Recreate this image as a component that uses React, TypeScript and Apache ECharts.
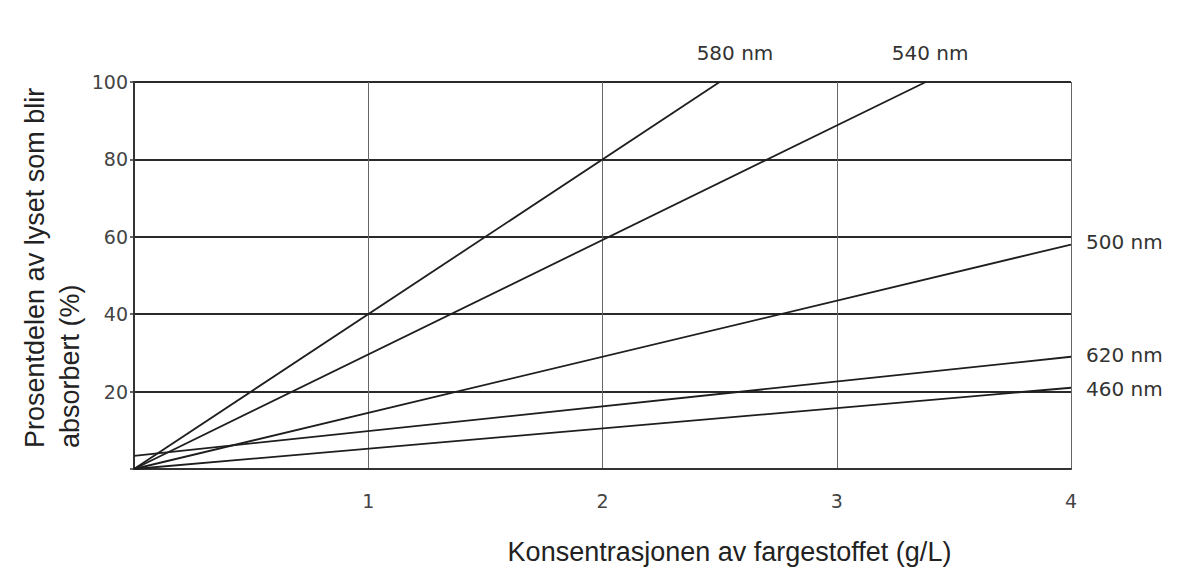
import React, { useEffect, useRef } from "react";
import * as echarts from "echarts";

// concentration (g/L) vs. percentage of light absorbed (%)
const line580 = [[0, 0], [2.5, 100]];
const line540 = [[0, 0], [3.38, 100]];
const line500 = [[0, 0], [4, 58]];
const line620 = [[0, 3.4], [4, 29]];
const line460 = [[0, 0], [4, 21]];

const xTicks = [0, 1, 2, 3, 4];
const yTicks = [0, 20, 40, 60, 80, 100];

const yTitle1 = "Prosentdelen av lyset som blir";
const yTitle2 = "absorbert (%)";
const xTitle = "Konsentrasjonen av fargestoffet (g/L)";

const FONT = "'Liberation Sans', Arial, sans-serif";
const TICK_FONT = "'DejaVu Sans', sans-serif";

export default function App() {
  const chartRef = useRef<HTMLDivElement>(null);

  useEffect(() => {
    if (!chartRef.current) return;
    const chart = echarts.init(chartRef.current, null, { renderer: "svg" });

    const mkSeries = (name: string, data: number[][], offset: number[]) => ({
      name,
      type: "line",
      data,
      showSymbol: false,
      symbol: "none",
      lineStyle: { color: "#1e1e1e", width: 1.8 },
      endLabel: {
        show: true,
        formatter: name,
        distance: 15,
        offset,
        fontFamily: TICK_FONT,
        fontSize: 20,
        color: "#333",
      },
      z: 3,
    });

    chart.setOption({
      animation: false,
      backgroundColor: "#fff",
      grid: { left: 134, right: 117, top: 82, bottom: 116 },
      xAxis: {
        type: "value",
        min: xTicks[0],
        max: xTicks[xTicks.length - 1],
        interval: 1,
        name: xTitle,
        nameLocation: "middle",
        nameGap: 69,
        nameTextStyle: {
          fontFamily: FONT,
          fontSize: 27,
          color: "#222",
          padding: [0, 0, 0, 254],
        },
        axisLine: { show: true, lineStyle: { color: "#333", width: 2 } },
        axisTick: { show: false },
        axisLabel: {
          margin: 22,
          fontFamily: TICK_FONT,
          fontSize: 19,
          color: "#444",
          formatter: (v: number) => (v === 0 ? "" : String(v)),
        },
        splitLine: { show: true, lineStyle: { color: "#666", width: 1 } },
      },
      yAxis: {
        type: "value",
        min: yTicks[0],
        max: yTicks[yTicks.length - 1],
        interval: 20,
        axisLine: { show: true, lineStyle: { color: "#333", width: 2 } },
        axisTick: { show: true, length: 4, lineStyle: { color: "#333", width: 1.5 } },
        axisLabel: {
          margin: 6,
          fontFamily: TICK_FONT,
          fontSize: 19,
          color: "#444",
          formatter: (v: number) => (v === 0 ? "" : String(v)),
        },
        splitLine: { show: true, lineStyle: { color: "#2a2a2a", width: 2 } },
      },
      graphic: [
        {
          type: "text",
          x: 35,
          y: 448,
          rotation: Math.PI / 2,
          style: {
            text: yTitle1,
            fontFamily: FONT,
            fontSize: 27,
            fill: "#222",
            textAlign: "left",
            textVerticalAlign: "middle",
          },
        },
        {
          type: "text",
          x: 70,
          y: 448,
          rotation: Math.PI / 2,
          style: {
            text: yTitle2,
            fontFamily: FONT,
            fontSize: 27,
            fill: "#222",
            textAlign: "left",
            textVerticalAlign: "middle",
          },
        },
      ],
      series: [
        mkSeries("580 nm", line580, [-38, -29]),
        mkSeries("540 nm", line540, [-49, -29]),
        mkSeries("500 nm", line500, [0, -3]),
        mkSeries("620 nm", line620, [0, -2]),
        mkSeries("460 nm", line460, [0, 1]),
      ],
    });

    return () => chart.dispose();
  }, []);

  return (
    <div style={{ position: "absolute", left: 0, top: 0, width: 1188, height: 585 }}>
      <div ref={chartRef} style={{ width: 1188, height: 585 }} />
    </div>
  );
}
